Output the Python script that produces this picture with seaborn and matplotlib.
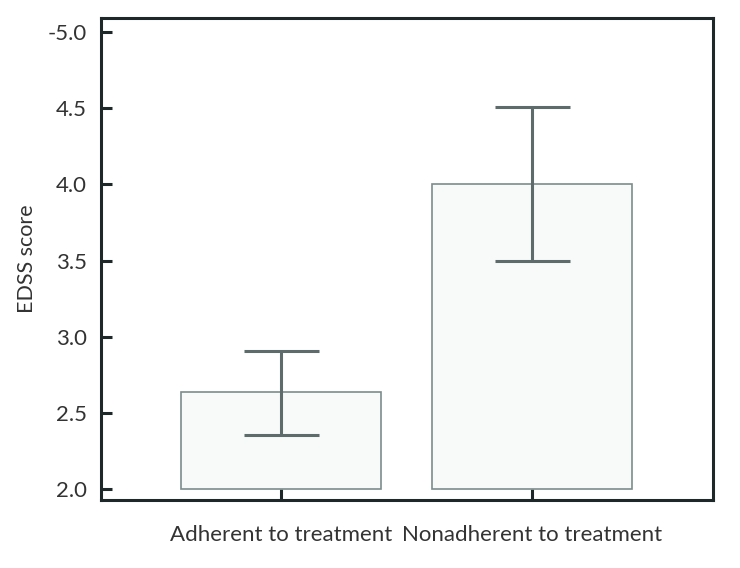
import matplotlib
matplotlib.use('Agg')
import matplotlib.pyplot as plt
import seaborn as sns
import pandas as pd

# Data
groups = ['Adherent to treatment', 'Nonadherent to treatment']
edss_mean = [2.64, 4.0]
err_low = [2.355, 3.5]
err_high = [2.905, 4.51]
baseline = 2.0
ytick_values = [2.0, 2.5, 3.0, 3.5, 4.0, 4.5, 5.0]
ytick_labels = ['2.0', '2.5', '3.0', '3.5', '4.0', '4.5', '-5.0']

sns.set_style('white')
plt.rcParams['font.family'] = ['Lato', 'DejaVu Sans']

df = pd.DataFrame({'group': groups, 'edss': edss_mean})

fig = plt.figure(figsize=(7.4, 5.68), dpi=100)
ax = fig.add_axes([0.1365, 0.1197, 0.827, 0.8486])

sns.barplot(data=df, x='group', y='edss', color='#f8f9f9', saturation=1,
            edgecolor='#7d8c8c', linewidth=1.2, width=0.8, errorbar=None, ax=ax)

# bars start at the baseline, not at zero
for patch, val in zip(ax.patches, edss_mean):
    patch.set_y(baseline)
    patch.set_height(val - baseline)

# error bars
xs = list(range(len(groups)))
yerr = [[m - lo for m, lo in zip(edss_mean, err_low)],
        [hi - m for m, hi in zip(edss_mean, err_high)]]
ax.errorbar(xs, edss_mean, yerr=yerr, fmt='none', ecolor='#5e6b6b',
            elinewidth=2.2, capsize=27, capthick=2.2, zorder=5)

ax.set_xlim(-0.717, 1.721)
ax.set_ylim(1.928, 5.092)
ax.set_yticks(ytick_values)
ax.set_yticklabels(ytick_labels)

ax.set_xlabel('')
ax.set_ylabel('EDSS score', fontsize=15.5, color='#333333', labelpad=8)

for side in ['left', 'right', 'top', 'bottom']:
    ax.spines[side].set_visible(True)
    ax.spines[side].set_color('#1f2828')
    ax.spines[side].set_linewidth(2.2)

ax.tick_params(axis='both', direction='in', length=8, width=2.2, color='#1f2828',
               labelsize=16, labelcolor='#333333')
ax.tick_params(axis='y', left=True, pad=10)
ax.tick_params(axis='x', bottom=True, pad=18)

fig.savefig('out.png', dpi=100)
